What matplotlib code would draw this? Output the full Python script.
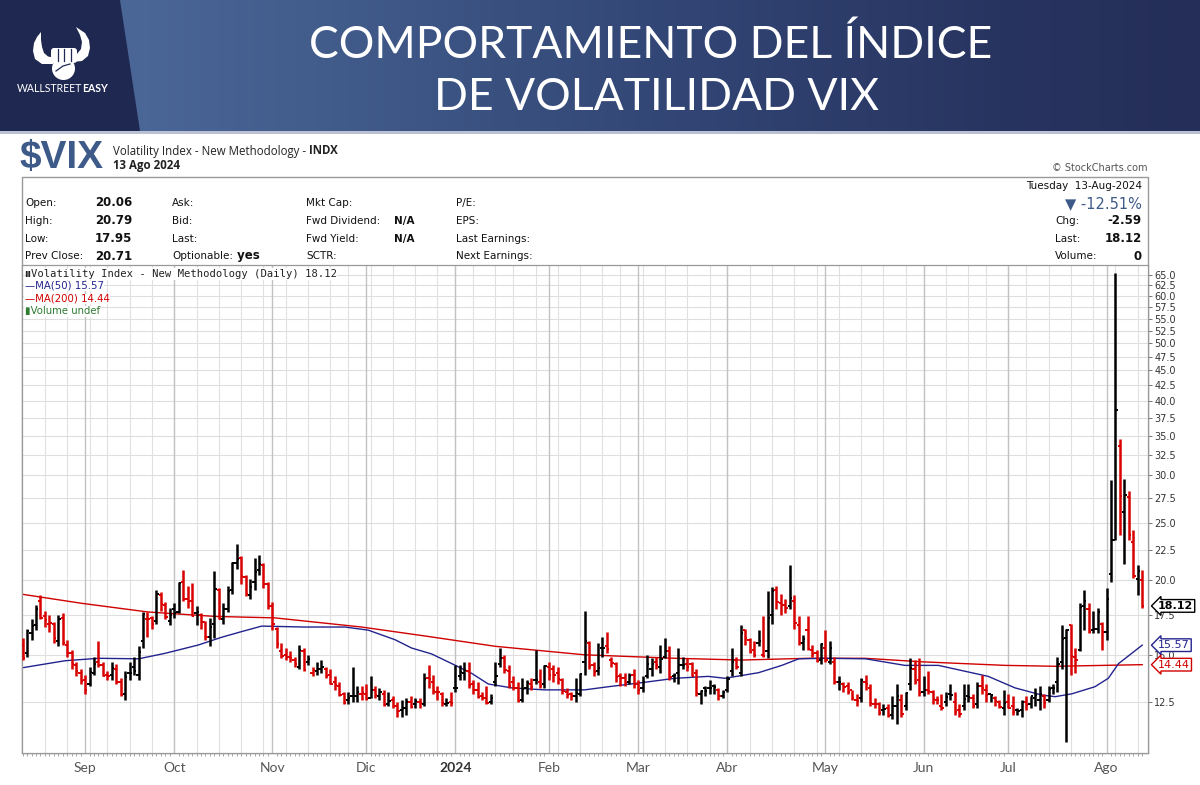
import numpy as np
import pandas as pd
import matplotlib
matplotlib.use('Agg')
import matplotlib.pyplot as plt
from matplotlib.patches import Polygon, Circle, FancyBboxPatch, Rectangle
from matplotlib.transforms import blended_transform_factory

# trading calendar of the chart (Aug 14 2023 -> Aug 13 2024)
holidays = ['2023-09-04', '2023-11-23', '2023-12-25', '2024-01-01', '2024-01-15',
            '2024-02-19', '2024-03-29', '2024-05-27', '2024-06-19', '2024-07-04']
dates = pd.bdate_range('2023-08-14', '2024-08-13', freq='C', holidays=holidays)

month_labels = ['Sep', 'Oct', 'Nov', 'Dic', '2024', 'Feb', 'Mar', 'Abr', 'May', 'Jun', 'Jul', 'Ago']

# daily OHLC
opens = [
    15.6, 15.1, 16.3, 16.8, 18.5, 17.4, 16.9, 16.9, 15.8, 17.3, 15.6, 15.1, 14.4, 14.0,  # Aug
    13.6, 13.4, 14.0, 14.6, 14.4, 13.9, 13.9, 14.2, 13.5, 12.9, 14.0, 14.3, 13.9, 15.8, 17.2, 17.3, 17.1, 18.9, 18.2, 17.1,  # Sep
    17.9, 17.7, 19.9, 18.6, 18.5, 17.6, 17.5, 17.0, 16.1, 16.9, 19.3, 17.2, 17.9, 19.3, 21.4, 21.8, 20.3, 18.9, 19.9, 20.8, 21.2, 19.7,  # Oct
    18.1, 16.6, 15.2, 15.0, 14.9, 14.7, 14.3, 15.2, 14.6, 14.0, 14.1, 14.2, 14.2, 13.9, 13.5, 13.3, 12.9, 12.6, 12.8, 12.8, 12.9,  # Nov
    12.9, 12.7, 13.1, 12.8, 12.9, 12.4, 12.6, 12.3, 12.1, 12.2, 12.5, 12.4, 12.5, 12.4, 13.7, 13.5, 13.0, 12.9, 12.4, 12.5,  # Dic
    13.2, 13.8, 14.0, 14.1, 13.4, 13.1, 12.8, 12.7, 12.5, 13.5, 14.5, 14.8, 14.1, 13.5, 13.2, 12.6, 13.2, 13.4, 13.6, 13.5, 13.4,  # Jan
    14.3, 14.2, 14.0, 13.6, 13.0, 12.9, 12.8, 12.9, 14.6, 15.7, 14.4, 14.1, 15.4, 15.5, 14.7, 14.5, 13.8, 13.7, 13.5, 13.9,  # Feb
    13.4, 13.2, 13.8, 14.2, 14.6, 14.3, 14.9, 15.2, 13.8, 14.0, 14.4, 14.5, 14.5, 14.0, 12.9, 13.2, 13.2, 13.3, 13.1, 12.8,  # Mar
    13.1, 14.1, 14.7, 14.0, 16.5, 15.9, 15.3, 15.7, 15.0, 15.2, 17.5, 19.3, 18.3, 18.2, 18.1, 18.5, 16.8, 15.7, 16.5, 15.3, 15.1, 14.7,  # Abr
    15.4, 14.6, 14.6, 13.5, 13.4, 13.3, 13.1, 12.6, 12.7, 13.5, 13.2, 12.4, 12.4, 12.1, 12.2, 11.9, 12.3, 12.6, 12.3, 13.4, 14.2, 13.6,  # May
    13.0, 13.1, 13.0, 12.6, 12.3, 12.5, 12.9, 12.5, 12.1, 12.3, 12.8, 12.7, 12.4, 13.3, 13.1, 12.9, 12.7, 12.5, 12.2,  # Jun
    12.5, 12.3, 12.1, 12.1, 12.5, 12.4, 12.7, 12.6, 12.8, 12.6, 13.2, 13.5, 14.6, 16.0, 16.8, 14.9, 15.3, 18.1, 17.9, 16.5, 16.6, 16.9,  # Jul
    16.4, 20.5, 23.4, 33.6, 26.0, 27.6, 23.2, 20.1, 20.06,  # Ago
]
highs = [
    16.0, 16.6, 17.2, 18.2, 18.9, 17.8, 17.5, 17.0, 17.5, 17.6, 15.9, 15.3, 14.6, 14.2,
    13.9, 14.3, 14.9, 15.8, 14.6, 14.1, 14.6, 14.5, 13.7, 14.1, 14.6, 14.9, 15.5, 17.7, 17.7, 17.4, 19.3, 19.1, 18.4, 18.0,
    18.3, 19.9, 20.8, 19.6, 19.8, 18.1, 17.6, 17.1, 17.3, 20.7, 19.4, 18.3, 19.6, 21.5, 23.0, 22.0, 20.4, 20.1, 21.8, 22.1, 21.4, 19.9,
    18.4, 16.7, 15.7, 15.4, 15.2, 14.9, 15.6, 15.4, 15.0, 14.3, 14.6, 14.7, 14.3, 14.2, 13.8, 13.5, 13.0, 13.0, 14.3, 13.3, 13.3,
    13.4, 13.8, 13.3, 13.2, 13.1, 13.0, 12.8, 12.5, 12.6, 12.7, 12.8, 12.7, 12.7, 14.0, 14.4, 13.9, 13.3, 13.0, 12.7, 13.0,
    14.4, 14.4, 14.6, 14.6, 13.6, 13.5, 13.0, 13.3, 12.9, 14.6, 15.4, 15.0, 14.4, 13.8, 13.5, 13.7, 13.6, 13.7, 15.3, 14.2, 14.4,
    14.6, 14.4, 14.3, 13.7, 13.2, 13.0, 13.7, 14.0, 17.8, 15.8, 14.6, 15.7, 16.1, 16.4, 14.9, 14.6, 14.0, 14.0, 14.0, 14.2,
    13.6, 13.8, 15.0, 14.8, 14.9, 15.6, 16.0, 15.5, 14.0, 15.4, 14.9, 14.8, 14.6, 14.2, 13.1, 13.3, 13.6, 13.4, 13.2, 13.1,
    13.8, 15.4, 14.9, 16.8, 16.6, 16.0, 15.8, 16.5, 17.4, 19.2, 19.5, 19.6, 19.0, 18.6, 21.2, 18.9, 17.4, 16.2, 17.4, 15.6, 15.3, 15.7,
    16.5, 15.8, 14.9, 13.8, 13.5, 13.5, 13.1, 12.9, 13.7, 13.9, 13.4, 12.7, 12.5, 12.4, 12.4, 12.8, 13.4, 12.9, 13.0, 14.8, 14.7, 14.8,
    13.8, 14.1, 13.1, 12.8, 12.9, 13.0, 13.4, 13.0, 12.4, 13.4, 13.4, 12.9, 13.5, 13.9, 13.4, 12.9, 12.8, 12.6, 13.1,
    12.9, 12.8, 12.2, 12.6, 12.8, 12.8, 13.2, 13.3, 12.9, 13.3, 13.4, 14.9, 16.8, 16.6, 16.9, 15.4, 18.3, 19.3, 18.3, 17.8, 18.0, 17.0,
    19.4, 29.5, 65.7, 34.6, 29.6, 28.2, 24.3, 21.2, 20.79,
]
lows = [
    14.7, 14.9, 15.9, 16.5, 17.2, 16.7, 16.4, 15.7, 15.5, 15.6, 14.9, 14.2, 13.8, 13.4,
    12.9, 13.3, 13.9, 14.3, 13.8, 13.6, 13.6, 13.4, 12.8, 12.6, 13.6, 13.9, 13.6, 15.4, 16.1, 16.6, 16.9, 17.8, 17.2, 16.8,
    17.3, 17.6, 18.5, 18.0, 17.4, 16.8, 16.6, 15.9, 15.5, 16.0, 17.2, 16.9, 17.7, 19.0, 20.9, 19.7, 18.8, 18.6, 19.3, 20.4, 19.4, 17.9,
    16.5, 15.4, 14.8, 14.7, 14.6, 14.3, 14.2, 14.1, 14.4, 13.8, 13.9, 14.0, 13.7, 13.4, 13.1, 12.8, 12.4, 12.4, 12.5, 12.5, 12.6,
    12.6, 12.7, 12.7, 12.6, 12.3, 12.3, 12.2, 11.8, 11.8, 11.9, 12.2, 12.2, 12.2, 12.3, 13.2, 12.9, 12.6, 12.3, 12.3, 12.3,
    13.0, 13.6, 13.6, 13.2, 12.9, 12.7, 12.6, 12.4, 12.4, 13.3, 14.3, 14.0, 13.2, 13.1, 12.5, 12.5, 12.9, 13.1, 13.4, 13.2, 13.2,
    13.6, 13.5, 13.4, 12.9, 12.7, 12.6, 12.5, 12.8, 13.9, 14.2, 13.8, 13.9, 14.9, 15.1, 14.3, 13.5, 13.3, 13.3, 13.4, 13.2,
    12.9, 13.0, 13.7, 13.8, 14.2, 14.0, 14.8, 13.6, 13.5, 13.4, 14.2, 14.1, 13.8, 12.8, 12.4, 12.8, 12.9, 12.9, 12.6, 12.7,
    13.0, 13.8, 14.2, 13.8, 15.6, 15.1, 14.9, 15.5, 14.9, 14.8, 16.9, 17.9, 17.5, 17.6, 17.9, 16.6, 15.6, 15.3, 15.3, 14.9, 14.6, 14.5,
    14.6, 14.5, 13.4, 13.1, 13.0, 12.9, 12.6, 12.3, 12.5, 13.1, 12.3, 12.2, 11.9, 11.9, 11.8, 11.7, 11.5, 11.8, 12.1, 13.1, 13.4, 12.8,
    12.8, 12.9, 12.4, 12.4, 12.1, 12.3, 12.6, 11.9, 11.8, 12.1, 12.5, 12.2, 12.2, 12.9, 12.5, 12.5, 12.3, 12.2, 11.9,
    12.2, 11.9, 11.9, 11.8, 12.1, 12.2, 12.3, 12.1, 12.2, 12.5, 12.9, 13.0, 14.2, 10.7, 13.9, 14.0, 15.2, 16.5, 16.3, 16.3, 16.3, 15.3,
    15.9, 19.9, 23.4, 23.8, 21.3, 23.4, 20.2, 18.9, 17.95,
]
closes = [
    14.82, 16.46, 16.78, 17.89, 17.30, 17.13, 16.97, 15.98, 17.20, 15.68, 15.08, 14.45, 14.09, 13.57,
    13.09, 14.02, 14.45, 14.40, 13.84, 13.80, 14.23, 13.48, 12.82, 13.79, 14.00, 14.11, 15.14, 17.54, 17.20, 16.90, 18.94, 18.22, 17.34, 17.52,
    17.61, 19.78, 18.58, 18.49, 17.45, 17.70, 17.03, 16.09, 16.69, 19.32, 17.21, 17.88, 19.22, 21.40, 21.71, 20.37, 18.97, 19.50, 20.68, 21.27, 19.75, 18.14,
    16.87, 15.66, 14.91, 14.89, 14.81, 14.45, 15.29, 14.17, 14.76, 14.16, 14.18, 14.32, 13.80, 13.41, 13.35, 12.85, 12.46, 12.69, 12.81, 12.98, 12.92,
    12.63, 13.08, 12.85, 12.97, 12.35, 12.55, 12.30, 12.07, 12.19, 12.48, 12.28, 12.56, 12.43, 13.67, 13.65, 13.03, 12.99, 12.43, 12.47, 12.45,
    13.20, 14.04, 14.13, 13.35, 13.08, 12.76, 12.69, 12.44, 12.70, 13.84, 14.79, 14.13, 13.30, 13.19, 12.55, 13.14, 13.45, 13.26, 13.60, 13.31, 14.35,
    13.88, 13.85, 13.67, 13.06, 12.83, 12.79, 12.93, 13.93, 15.85, 14.38, 14.01, 14.24, 15.42, 15.34, 14.54, 13.75, 13.74, 13.43, 13.84, 13.40,
    13.11, 13.49, 14.46, 14.50, 14.44, 14.74, 15.23, 13.75, 13.88, 14.40, 14.41, 14.33, 13.82, 12.92, 13.06, 13.06, 13.19, 13.24, 12.78, 13.01,
    13.65, 14.61, 14.33, 16.35, 16.03, 15.19, 14.98, 15.80, 14.91, 17.31, 19.23, 18.40, 18.21, 18.00, 18.71, 16.94, 15.69, 15.97, 15.37, 15.03, 14.67, 15.65,
    14.72, 15.39, 13.49, 13.49, 13.23, 13.00, 12.69, 12.55, 13.60, 13.42, 12.45, 12.42, 11.99, 12.15, 11.86, 12.29, 12.77, 11.93, 12.92, 14.28, 13.49, 12.92,
    13.11, 13.06, 12.63, 12.58, 12.22, 12.74, 12.85, 12.04, 11.94, 12.66, 12.75, 12.30, 13.28, 13.20, 12.84, 12.84, 12.55, 12.24, 12.44,
    12.22, 12.03, 12.09, 12.48, 12.37, 12.79, 12.85, 12.91, 12.46, 13.12, 13.19, 14.48, 15.93, 16.52, 14.91, 14.72, 18.04, 18.46, 16.39, 16.60, 17.69, 16.36,
    18.59, 23.39, 38.57, 27.71, 27.85, 23.79, 20.37, 20.71, 18.12,
]

# moving averages read at sample bars
ma50_idx = [0, 9.5, 17, 26, 32, 39.4, 44.6, 49, 53.6, 63.3, 72.3, 77.5, 83.5, 87.2, 91.7, 96.2,
            100.7, 104.4, 109.7, 117, 126, 131.3, 138.8, 146.3, 153.7, 157.5, 165, 170.2, 174,
            180, 189, 197.8, 205.3, 216.5, 222.5, 228.5, 231.5, 235.2, 240.4, 243.4, 245.7, 251]
ma50_val = [14.27, 14.66, 14.8, 14.77, 15.09, 15.58, 16.05, 16.4, 16.76, 16.7, 16.7, 16.5, 15.9,
            15.4, 15.05, 14.5, 13.96, 13.4, 13.2, 13.1, 13.1, 13.26, 13.47, 13.7, 13.8, 13.7, 14.0,
            14.4, 14.77, 14.8, 14.77, 14.4, 14.4, 13.8, 13.2, 12.84, 12.76, 12.9, 13.26, 13.7, 14.5, 15.57]
ma200_idx = [0, 13.3, 28.1, 43.1, 56.6, 76, 91, 106, 126, 146.3, 161.2, 176.2, 188.9, 201.6, 220.3, 231.5, 251]
ma200_val = [18.95, 18.3, 17.7, 17.4, 17.3, 16.7, 16.1, 15.5, 15.0, 14.8, 14.7, 14.8, 14.8, 14.6, 14.4, 14.35, 14.44]

y_ticks = [12.5, 15.0, 17.5, 20.0, 22.5, 25.0, 27.5, 30.0, 32.5, 35.0, 37.5, 40.0, 42.5, 45.0,
           47.5, 50.0, 52.5, 55.0, 57.5, 60.0, 62.5, 65.0]

W, H = 1200, 785
fig = plt.figure(figsize=(12, 7.85), dpi=100)
fig.patch.set_facecolor('white')

# background layer in pixel coordinates
bg = fig.add_axes([0, 0, 1, 1])
bg.axis('off')

# header gradient
stops_x = [0, 150, 400, 700, 1000, 1200]
stops_c = np.array([[74, 102, 150], [74, 102, 150], [62, 87, 134], [49, 68, 115], [40, 52, 96], [36, 46, 88]]) / 255
xs = np.linspace(0, 1200, 600)
grad = np.stack([np.interp(xs, stops_x, stops_c[:, k]) for k in range(3)], axis=-1)[None, :, :]
bg.imshow(grad, extent=[0, 1200, 131, 0], aspect='auto', zorder=0)
bg.add_patch(Polygon([(0, 0), (120, 0), (140, 131), (0, 131)], closed=True, fc='#1f2850', ec='none', zorder=1))
bg.add_patch(Rectangle((0, 131), 1200, 2.5, fc='#b9c1d2', ec='none', zorder=1))
bg.set_xlim(0, W)
bg.set_ylim(H, 0)

# logo
left_horn = [(53, 64), (42, 64), (35, 59), (33, 51), (34, 43), (37, 37), (41, 32), (41, 40),
             (42, 47), (44, 53), (48, 56.5), (53, 57.5)]
right_horn = [(72, 62), (82, 61), (88, 56), (90, 48), (89, 40), (85, 33), (76, 27), (80, 35),
              (82, 42), (81, 49), (77, 54), (72, 55)]
bg.add_patch(Polygon(left_horn, closed=True, fc='white', ec='none', zorder=2))
bg.add_patch(Polygon(right_horn, closed=True, fc='white', ec='none', zorder=2))
bg.add_patch(Circle((63.5, 68.5), 11.5, fc='white', ec='none', zorder=2))
bg.add_patch(FancyBboxPatch((51, 48), 26, 15, boxstyle='round,pad=0,rounding_size=3',
                            fc='white', ec='none', zorder=2))
for fx in [57.5, 64, 70.5]:
    bg.plot([fx, fx], [49, 61], color='#1f2850', lw=0.9, zorder=3)
bg.plot([56, 63, 70], [71, 66, 64], color='#1f2850', lw=0.9, zorder=3)
bg.text(82, 89, 'WALLSTREET', color='white', fontsize=7.6, family='Lato', ha='right', va='center', zorder=3)
bg.text(82, 89, 'EASY', color='white', fontsize=7.6, family='Lato', fontweight='bold', ha='left', va='center', zorder=3)

# title
bg.text(651, 45, 'COMPORTAMIENTO DEL ÍNDICE', color='white', fontsize=32, family='Lato',
        ha='center', va='center', zorder=3)
bg.text(656, 97, 'DE VOLATILIDAD VIX', color='white', fontsize=32, family='Lato',
        ha='center', va='center', zorder=3)

# symbol header
bg.text(19, 158, '$VIX', color='#3d5a88', fontsize=28, family='Liberation Sans',
        fontweight='bold', ha='left', va='center')
t1 = bg.text(113, 151, 'Volatility Index - New Methodology - ', color='#222', fontsize=8.3,
             family='Open Sans', ha='left', va='center')
bg.annotate('INDX', xy=(1, 0.5), xycoords=t1, color='#222', fontsize=8.3, family='Open Sans',
            fontweight='bold', ha='left', va='center')
bg.text(113, 165, '13 Ago 2024', color='#222', fontsize=8.3, family='Open Sans',
        fontweight='bold', ha='left', va='center')
bg.text(1148, 168, '© StockCharts.com', color='#555', fontsize=7, ha='right', va='center')

# outer box
bg.add_patch(Rectangle((21.7, 177), 1148 - 21.7, 752.7 - 177, fill=False, ec='#999', lw=1, zorder=4))

# info panel
rows_y = [203, 221, 239, 256]
info_font = dict(fontsize=7.5, family='DejaVu Sans', color='#111', va='center')
for y, lab, val in zip(rows_y, ['Open:', 'High:', 'Low:', 'Prev Close:'], ['20.06', '20.79', '17.95', '20.71']):
    bg.text(25, y, lab, ha='left', **info_font)
    bg.text(132, y, val, ha='right', fontweight='bold', **dict(info_font, fontsize=8.5))
for y, lab in zip(rows_y, ['Ask:', 'Bid:', 'Last:', 'Optionable:']):
    t = bg.text(172, y, lab, ha='left', **info_font)
bg.annotate(' yes', xy=(1, 0.5), xycoords=t, ha='left', fontweight='bold', **dict(info_font, fontsize=8.5))
for y, lab in zip(rows_y, ['Mkt Cap:', 'Fwd Dividend:', 'Fwd Yield:', 'SCTR:']):
    bg.text(306, y, lab, ha='left', **info_font)
bg.text(394, 221, 'N/A', ha='left', fontweight='bold', **info_font)
bg.text(394, 239, 'N/A', ha='left', fontweight='bold', **info_font)
for y, lab in zip(rows_y, ['P/E:', 'EPS:', 'Last Earnings:', 'Next Earnings:']):
    bg.text(456, y, lab, ha='left', **info_font)
bg.text(1142, 186, 'Tuesday  13-Aug-2024', ha='right', **info_font)
bg.text(1142, 204, '▼ -12.51%', ha='right', va='center', fontsize=10.5, color='#3d5a88')
for y, lab, val in zip(rows_y[1:], ['Chg:', 'Last:', 'Volume:'], ['-2.59', '18.12', '0']):
    bg.text(1055, y, lab, ha='left', **info_font)
    bg.text(1142, y, val, ha='right', fontweight='bold', **dict(info_font, fontsize=8.5))

# price panel
px0, px1, py0, py1 = 21.7, 1148, 265, 752.7
ax = fig.add_axes([px0 / W, 1 - py1 / H, (px1 - px0) / W, (py1 - py0) / H])
ax.set_zorder(2)
ax.set_yscale('log')
ymin = 12.5 * np.exp((702 - py1) / 258.8)
ymax = 12.5 * np.exp((702 - py0) / 258.8)
ax.set_ylim(ymin, ymax)
ax.set_xlim(-0.2, 252.3)

n = len(closes)
idx = np.arange(n)
month_pos = [i for i in range(1, n) if dates[i].month != dates[i - 1].month]
week_pos = [i for i in range(1, n) if dates[i].isocalendar()[1] != dates[i - 1].isocalendar()[1]]

for y in y_ticks:
    ax.axhline(y, color='#dedede', lw=0.8, zorder=0)
for i in week_pos:
    ax.axvline(i, color='#e0e0e0', lw=0.8, zorder=0)
for i in month_pos:
    ax.axvline(i, color='#c2c2c2', lw=1.0, zorder=0)

prev = [opens[0]] + closes[:-1]
colors = ['#000000' if c >= p else '#d90000' for c, p in zip(closes, prev)]
ax.vlines(idx, lows, highs, colors=colors, lw=1.8, zorder=3)
ax.hlines(opens, idx - 0.5, idx, colors=colors, lw=1.4, zorder=3)
ax.hlines(closes, idx, idx + 0.5, colors=colors, lw=1.4, zorder=3)

ax.plot(ma200_idx, ma200_val, color='#d00000', lw=1.0, zorder=2)
ax.plot(ma50_idx, ma50_val, color='#23238e', lw=1.0, zorder=2)

# axes styling
for s in ax.spines.values():
    s.set_color('#999')
    s.set_linewidth(0.9)
ax.yaxis.tick_right()
ax.yaxis.set_minor_locator(matplotlib.ticker.NullLocator())
ax.set_yticks(y_ticks)
ax.set_yticklabels(['%.1f' % v for v in y_ticks], fontsize=7, color='#333')
ax.tick_params(axis='y', which='major', direction='out', length=3, width=0.7, color='#777', pad=1.5)
ax.set_xticks(month_pos)
ax.set_xticklabels(month_labels, fontsize=10, family='Lato', color='#555')
for lbl in ax.get_xticklabels():
    if lbl.get_text() == '2024':
        lbl.set_fontweight('bold')
        lbl.set_color('#333')
ax.set_xticks(idx, minor=True)
ax.tick_params(axis='x', which='major', length=0, pad=7)
ax.tick_params(axis='x', which='minor', length=2, width=0.6, color='#999')
ax.set_facecolor('white')

# last value tags
tr = blended_transform_factory(ax.transAxes, ax.transData)
tags = [(closes[-1], '18.12', 'black', 'bold'), (ma50_val[-1], '15.57', '#23238e', 'normal'),
        (ma200_val[-1], '14.44', '#d00000', 'normal')]
for val, txt, col, wt in tags:
    ax.text(1.009, val, txt, transform=tr, ha='left', va='center', fontsize=8, color=col,
            fontweight=wt, clip_on=False, zorder=10,
            bbox=dict(boxstyle='larrow,pad=0.12', fc='white', ec=col, lw=1))

# legend lines
leg = dict(transform=ax.transAxes, ha='left', va='center', zorder=6)
def ypos(py):
    return 1 - (py - py0) / (py1 - py0)
ax.text(9 / (px1 - px0), ypos(274), 'Volatility Index - New Methodology (Daily) 18.12',
        fontsize=7.6, family='DejaVu Sans Mono', color='#222',
        bbox=dict(fc='white', ec='none', pad=0.5), **leg)
ax.text(0.5 / (px1 - px0) + 0.002, ypos(274), 'ıı', fontsize=7, color='#222', fontweight='bold', **leg)
ax.text(3 / (px1 - px0), ypos(286), '—MA(50) 15.57', fontsize=7.3, color='#23238e',
        bbox=dict(fc='white', ec='none', pad=0.3), **leg)
ax.text(3 / (px1 - px0), ypos(299), '—MA(200) 14.44', fontsize=7.3, color='#d00000',
        bbox=dict(fc='white', ec='none', pad=0.3), **leg)
ax.text(3 / (px1 - px0), ypos(311.5), '▮Volume undef', fontsize=7.3, color='#2e7d32',
        bbox=dict(fc='white', ec='none', pad=0.3), **leg)

fig.savefig('out.png', dpi=100)
